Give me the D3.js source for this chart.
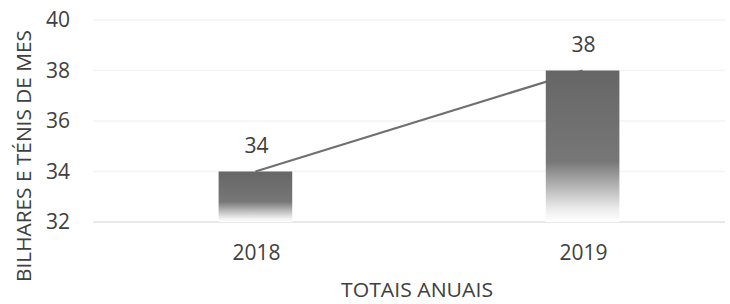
<!DOCTYPE html>
<html><head><meta charset="utf-8">
<script src="https://cdn.jsdelivr.net/npm/d3@7"></script>
<style>body{margin:0;background:#fff}svg{display:block}text{font-family:"Open Sans",sans-serif;fill:#404040}</style>
</head><body><svg id="c" width="730" height="304"></svg>
<script>
const categories = ["2018", "2019"];
const values = [34, 38];
const yTicks = [32, 34, 36, 38, 40];

const svg = d3.select("#c");
const x = d3.scaleBand().domain(categories).range([91, 747]).paddingInner(0.775).paddingOuter(0.39);
const y = d3.scaleLinear().domain([32, 40]).range([222, 20]);

const defs = svg.append("defs");
const g = defs.append("linearGradient").attr("id", "bg").attr("x1", 0).attr("y1", 0).attr("x2", 0).attr("y2", 1);
g.append("stop").attr("offset", "0%").attr("stop-color", "#666666");
g.append("stop").attr("offset", "60%").attr("stop-color", "#777777");
g.append("stop").attr("offset", "92%").attr("stop-color", "#eeeeee");
g.append("stop").attr("offset", "100%").attr("stop-color", "#ffffff");

// gridlines
svg.append("g").selectAll("line").data(yTicks).join("line")
  .attr("x1", 93).attr("x2", 725)
  .attr("y1", d => y(d)).attr("y2", d => y(d))
  .attr("stroke", d => d === 32 ? "#e2e2e2" : "#f3f3f3").attr("stroke-width", 1.5);

// y tick labels
svg.append("g").selectAll("text").data(yTicks).join("text")
  .attr("x", 70).attr("y", d => y(d)).attr("dy", "0.35em")
  .attr("text-anchor", "end").attr("font-size", 21).text(d => d);

// line
const line = d3.line().x((d, i) => x(categories[i]) + x.bandwidth() / 2).y(d => y(d));
svg.append("path").datum(values).attr("d", line).attr("fill", "none")
  .attr("stroke", "#707070").attr("stroke-width", 2.2);

// bars
svg.append("g").selectAll("rect").data(values).join("rect")
  .attr("x", (d, i) => x(categories[i]))
  .attr("width", x.bandwidth())
  .attr("y", d => y(d))
  .attr("height", d => y(32) - y(d))
  .attr("fill", "url(#bg)");

// value labels
svg.append("g").selectAll("text").data(values).join("text")
  .attr("x", (d, i) => x(categories[i]) + x.bandwidth() / 2 + 1)
  .attr("y", d => y(d) - 26).attr("dy", "0.35em")
  .attr("text-anchor", "middle").attr("font-size", 21).text(d => d);

// x tick labels
svg.append("g").selectAll("text").data(categories).join("text")
  .attr("x", d => x(d) + x.bandwidth() / 2 + 1).attr("y", 253).attr("dy", "0.35em")
  .attr("text-anchor", "middle").attr("font-size", 21).text(d => d);

// axis titles
svg.append("text").attr("x", 417).attr("y", 290).attr("dy", "0.35em")
  .attr("text-anchor", "middle").attr("font-size", 20)
  .attr("textLength", 152).attr("lengthAdjust", "spacingAndGlyphs").text("TOTAIS ANUAIS");
svg.append("text").attr("transform", "translate(24,156) rotate(-90)").attr("dy", "0.35em")
  .attr("text-anchor", "middle").attr("font-size", 20)
  .attr("textLength", 252).attr("lengthAdjust", "spacingAndGlyphs").text("BILHARES E TÉNIS DE MES");
</script></body></html>
